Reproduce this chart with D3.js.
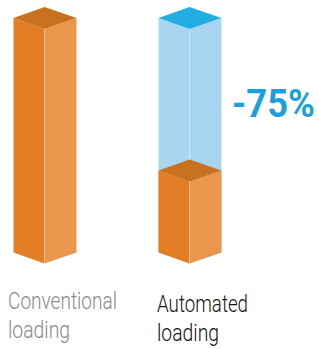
<!DOCTYPE html>
<html>
<head>
<meta charset="utf-8">
<script src="https://cdn.jsdelivr.net/npm/d3@7"></script>
<style>
  html, body { margin: 0; padding: 0; background: #fff; }
  svg { display: block; }
</style>
</head>
<body>
<div class="chart"></div>
<script>
// loading time, conventional = 100
const categories = ["Conventional loading", "Automated loading"];
const labelLines = [["Conventional", "loading"], ["Automated", "loading"]];
const baseValues = [100, 100];   // full height (ghost bar on the right)
const actualValues = [100, 35];  // what is drawn in orange
const deltaLabel = "-75%";

const svgWidth = 319, svgHeight = 349;
const depthLeft = 31, depthRight = 32, rise = 11;

const svg = d3.select(".chart").append("svg")
  .attr("width", svgWidth)
  .attr("height", svgHeight);

const x = d3.scalePoint().domain(categories).range([44.5, 189.5]);
const y = d3.scaleLinear().domain([0, 100]).range([252.5, 18]);

const orange = { left: "#e47e24", right: "#ea974b", top: "#c8711f" };
const blue = { left: "#a8d5f0", right: "#a8d5f0", top: "#22ade3" };

function prism(g, cx, v, col) {
  const y0 = y(0), yv = y(v);
  const pts = a => a.map(p => p.join(",")).join(" ");
  g.append("polygon")
    .attr("points", pts([[cx - depthLeft, yv], [cx, yv + rise], [cx, y0 + rise], [cx - depthLeft, y0]]))
    .attr("fill", col.left);
  g.append("polygon")
    .attr("points", pts([[cx, yv + rise], [cx + depthRight, yv], [cx + depthRight, y0], [cx, y0 + rise]]))
    .attr("fill", col.right);
  // faint edge between the two faces
  g.append("line")
    .attr("x1", cx).attr("x2", cx)
    .attr("y1", yv + rise).attr("y2", y0 + rise)
    .attr("stroke", "#fff").attr("stroke-opacity", 0.35).attr("stroke-width", 0.8);
  g.append("polygon")
    .attr("points", pts([[cx - depthLeft, yv], [cx, yv - rise], [cx + depthRight, yv], [cx, yv + rise]]))
    .attr("fill", col.top);
}

const bars = svg.append("g");
categories.forEach((c, i) => {
  const cx = x(c);
  if (actualValues[i] < baseValues[i]) {
    prism(bars, cx, baseValues[i], blue);
  }
  prism(bars, cx, actualValues[i], orange);
});

// reduction label
svg.append("text")
  .attr("x", 232)
  .attr("y", 117)
  .attr("textLength", 83)
  .attr("lengthAdjust", "spacingAndGlyphs")
  .style("font-family", "Roboto, sans-serif")
  .style("font-weight", 700)
  .style("font-size", "38px")
  .style("fill", "#1d9fd9")
  .text(deltaLabel);

// category labels, two lines each
const labelX = [8, 157];
const labelY = [309, 312];
const labelColor = ["#8a8a8a", "#111111"];
const labelWidths = [[109, 62], [91, 62]];
labelLines.forEach((lines, i) => {
  const t = svg.append("text")
    .style("font-family", "Roboto, sans-serif")
    .style("font-weight", 300)
    .style("font-size", "24px")
    .style("fill", labelColor[i]);
  lines.forEach((line, j) => {
    t.append("tspan")
      .attr("x", labelX[i])
      .attr("y", labelY[i] + j * 28.5)
      .attr("textLength", labelWidths[i][j])
      .attr("lengthAdjust", "spacingAndGlyphs")
      .text(line);
  });
});
</script>
</body>
</html>
